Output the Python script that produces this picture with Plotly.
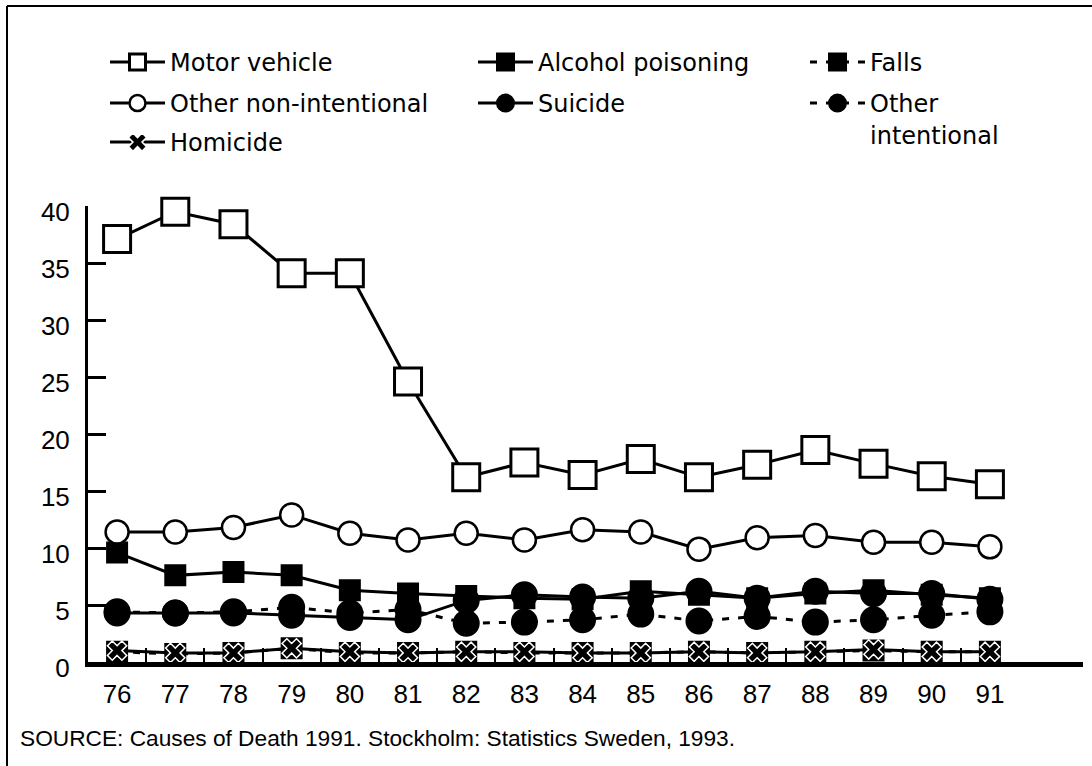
import plotly.graph_objects as go

# years 1976-1991, deaths per 100 000
years = [76, 77, 78, 79, 80, 81, 82, 83, 84, 85, 86, 87, 88, 89, 90, 91]
year_labels = [str(y) for y in years]

motor_vehicle = [37.1, 39.5, 38.4, 34.1, 34.1, 24.6, 16.2, 17.5, 16.4, 17.8, 16.2, 17.3, 18.6, 17.4, 16.3, 15.6]
other_nonint = [11.4, 11.4, 11.8, 12.9, 11.3, 10.7, 11.3, 10.7, 11.6, 11.4, 9.9, 10.9, 11.1, 10.5, 10.5, 10.1]
alcohol = [9.6, 7.6, 7.9, 7.6, 6.3, 6.0, 5.8, 5.6, 5.5, 6.2, 5.9, 5.6, 6.0, 6.3, 5.9, 5.6]
suicide = [4.3, 4.3, 4.3, 4.1, 3.9, 3.7, 5.4, 5.9, 5.7, 5.6, 6.2, 5.6, 6.2, 6.0, 6.0, 5.5]
other_int = [4.4, 4.3, 4.4, 4.8, 4.3, 4.6, 3.4, 3.5, 3.7, 4.2, 3.6, 4.0, 3.5, 3.7, 4.1, 4.4]
falls = [0.9, 0.7, 0.8, 1.2, 0.8, 0.8, 0.9, 0.8, 0.8, 0.8, 0.9, 0.8, 0.9, 1.0, 0.9, 0.9]
homicide = [1.0, 0.8, 0.8, 1.2, 0.9, 0.8, 0.9, 0.9, 0.8, 0.8, 0.9, 0.8, 0.9, 1.1, 0.9, 0.9]

FONT = "Liberation Sans"
LEG_FONT = "DejaVu Sans"
W, H = 1092, 766

fig = go.Figure()

# each legend entry gets its own legend box so it can sit where the original has it
# (text left edge px, text centre px)
legend_pos = {
    "legend": (170, 64), "legend2": (538, 64), "legend3": (870, 64),
    "legend4": (170, 105), "legend5": (538, 105), "legend6": (870, 105),
    "legend7": (170, 144),
}

def add(name, y, legend, symbol, size, fill, dash="solid", lw=3, mlw=3, mline="black"):
    fig.add_trace(go.Scatter(
        x=years, y=y, name=name, mode="lines+markers", cliponaxis=False, legend=legend,
        line=dict(color="black", width=lw, dash=dash),
        marker=dict(symbol=symbol, size=size, color=fill,
                    line=dict(color=mline, width=mlw)),
    ))

add("Motor vehicle", motor_vehicle, "legend", "square", 27, "white")
add("Alcohol poisoning", alcohol, "legend2", "square", 19, "black")
add("Falls", falls, "legend3", "square", 19, "black", dash="7px,9px")
add("Other non-intentional", other_nonint, "legend4", "circle", 23, "white", mlw=2.5)
add("Suicide", suicide, "legend5", "circle", 24, "black")
add("Other<br>intentional", other_int, "legend6", "circle", 24, "black", dash="7px,9px")
add("Homicide", homicide, "legend7", "x", 17, "black", mlw=1.5, mline="white")

# plot area: x 88..1083 px, y 205.7..661.7 px
L, R, T, B = 88, W - 1083, 206, 104
pw, ph = W - L - R, H - T - B

def px_x(p):
    return (p - L) / pw

def px_y(p):
    return (H - B - p) / ph

legends = {}
for key, (tx, ty) in legend_pos.items():
    legends[key] = dict(
        xref="container", yref="container",
        x=(tx - 65) / W, y=1 - (ty - 24) / H, xanchor="left", yanchor="top",
        font=dict(size=24, family=LEG_FONT), itemwidth=55, valign="top",
        bgcolor="rgba(0,0,0,0)", borderwidth=0,
    )

fig.update_layout(
    width=W, height=H,
    margin=dict(l=L, r=R, t=T, b=B, autoexpand=False),
    paper_bgcolor="white", plot_bgcolor="white",
    font=dict(family=FONT, color="black"),
    showlegend=True,
    xaxis=dict(
        range=[75.5, 92.6], showgrid=False, zeroline=False, automargin=False,
        showline=True, linecolor="black", linewidth=5,
        tickmode="array", tickvals=years, ticktext=year_labels,
        ticks="", tickfont=dict(size=26, family=FONT), ticklabelstandoff=5,
        minor=dict(tickmode="array", tickvals=[y + 0.5 for y in years[:-1]],
                   ticks="inside", ticklen=14, tickwidth=2, tickcolor="black"),
    ),
    yaxis=dict(
        range=[0, 40], showgrid=False, zeroline=False, automargin=False,
        showline=True, linecolor="black", linewidth=3,
        tickmode="array", tickvals=[0, 5, 10, 15, 20, 25, 30, 35, 40],
        ticks="inside", ticklen=18, tickwidth=3, tickcolor="black",
        tickfont=dict(size=26, family=FONT), ticklabelstandoff=10, ticklabelshift=6,
    ),
    shapes=[
        dict(type="line", xref="paper", yref="paper", x0=px_x(7), x1=px_x(W),
             y0=px_y(6), y1=px_y(6), line=dict(color="black", width=2)),
        dict(type="line", xref="paper", yref="paper", x0=px_x(7), x1=px_x(7),
             y0=px_y(6), y1=px_y(H), line=dict(color="black", width=2)),
    ],
    annotations=[
        dict(text="SOURCE: Causes of Death 1991. Stockholm: Statistics Sweden, 1993.",
             xref="paper", yref="paper", x=px_x(18), y=px_y(738),
             xanchor="left", yanchor="middle", showarrow=False,
             font=dict(size=22.7, family=FONT)),
    ],
    **legends,
)

# the page's default 8px body margin would push the whole chart off its spot
fig.write_html("out.html", config={"displayModeBar": False},
               post_script="document.body.style.margin='0';")
